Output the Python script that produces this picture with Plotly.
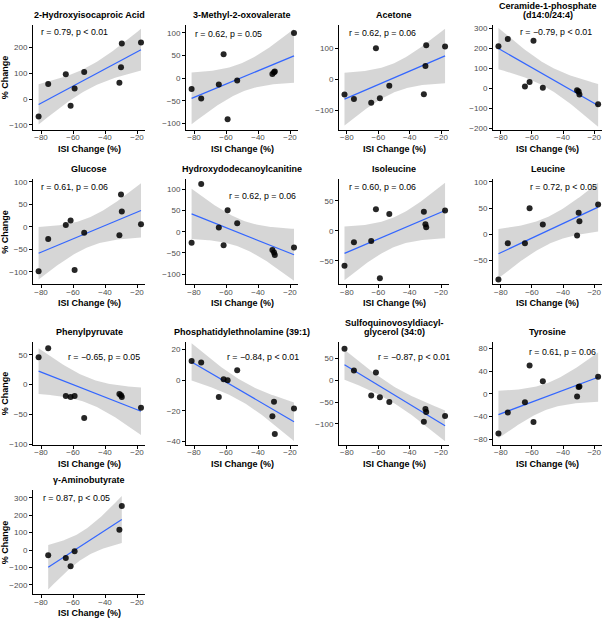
import numpy as np
import plotly.graph_objects as go

# ---------------- data ----------------
ISI = [-81.5, -75.5, -64.5, -61.5, -59.0, -53.0, -31.0, -30.0, -29.5, -17.5]

titles = [
    "2-Hydroxyisocaproic Acid", "3-Methyl-2-oxovalerate", "Acetone",
    "Ceramide-1-phosphate<br>(d14:0/24:4)",
    "Glucose", "Hydroxydodecanoylcanitine", "Isoleucine", "Leucine",
    "Phenylpyruvate", "Phosphatidylethnolamine (39:1)",
    "Sulfoquinovosyldiacyl-<br>glycerol (34:0)", "Tyrosine",
    "γ-Aminobutyrate",
]

hydroxyisocaproic = [-68, 58, 96, -26, 41, 105, 63, 123, 215, 219]
methyl_oxovalerate = [-24, -45, -14, 53, -91, -5, 9, 13, 15, 100]
acetone = [-49, -64, -76, 100, -61, -21, -48, 43, 110, 106]
ceramide = [210, 246, 8, 31, 237, 2, -10, -17, -32, -81]
glucose = [-99, -27, 4, 14, -96, -13, -19, 72, 34, 6]
hydroxydodecanoyl = [-26, 113, 10, -32, 51, 20, -43, -49, -55, -37]
isoleucine = [-58, -19, -17, 36, -79, 28, 32, 11, 6, 34]
leucine = [-86, -17, -17, 50, None, 19, -2, 41, 25, 57]
phenylpyruvate = [46, 61, -19, -21, -19, -56, -16, -18, -21, -39]
phosphatidyl = [12.5, 11.5, -11, 0.5, 0, 6.5, -23.5, -14, -35, -18.5]
sulfoquinovosyl = [73, 23, -35, 18, -39, -49.5, -95, -66, -73, -82]
tyrosine = [-70, -33, -15, 50, -50, 22, -5, 12, 13, 30]
aminobutyrate = [None, -30, -45, -92, -7, None, 116, None, 253, None]

stats_text = [
    "r = 0.79, p < 0.01", "r = 0.62, p = 0.05", "r = 0.62, p = 0.06",
    "r = −0.79, p < 0.01", "r = 0.61, p = 0.06", "r = 0.62, p = 0.06",
    "r = 0.60, p = 0.06", "r = 0.72, p < 0.05", "r = −0.65, p = 0.05",
    "r = −0.84, p < 0.01", "r = −0.87, p < 0.01", "r = 0.61, p = 0.06",
    "r = 0.87, p < 0.05",
]

x_ticks = [-80, -60, -40, -20]

# ---------------- layout config ----------------
series = [hydroxyisocaproic, methyl_oxovalerate, acetone, ceramide, glucose,
          hydroxydodecanoyl, isoleucine, leucine, phenylpyruvate, phosphatidyl,
          sulfoquinovosyl, tyrosine, aminobutyrate]

y_ranges = [(-119, 288), (-114, 118), (-163, 176), (-208, 317), (-128, 106),
            (-124, 124), (-89, 86), (-95, 105), (-101, 72), (-42, 25),
            (-148, 89), (-90, 92), (-253, 343)]
y_dticks = [100, 50, 100, 100, 50, 50, 50, 50, 50, 20, 50, 40, 100]

# (side, x offset px, y offset px from top of plot)
ann_pos = [("l", 6, 7), ("l", 7, 9), ("l", 8, 8), ("r", -8, 7),
           ("l", 6, 8), ("r", 0, 17), ("l", 8, 8), ("r", -3, 8),
           ("r", -3, 15), ("r", 3, 15), ("r", 3, 15), ("r", -4, 10),
           ("l", 8, 8)]

W, H = 606, 623
cols_px = [(33, 145), (186, 298), (339, 449), (493, 602)]
rows_px = [(23, 129), (179, 285), (343, 447), (493, 598)]

T_Q = {4: 2.776445, 5: 2.570582, 6: 2.446912, 7: 2.364624, 8: 2.306004}

FONT = "Liberation Sans, Arial, sans-serif"

fig = go.Figure()
annotations = []
layout_axes = {}

for i, ys in enumerate(series):
    r, c = divmod(i, 4)
    ax = "" if i == 0 else str(i + 1)
    xa, ya = "x" + ax, "y" + ax
    xs = np.array([x for x, y in zip(ISI, ys) if y is not None], float)
    yv = np.array([y for y in ys if y is not None], float)
    n = len(xs)
    b1, b0 = np.polyfit(xs, yv, 1)
    resid = yv - (b0 + b1 * xs)
    s = np.sqrt(np.sum(resid ** 2) / (n - 2))
    xbar = xs.mean()
    sxx = np.sum((xs - xbar) ** 2)
    grid = np.linspace(xs.min(), xs.max(), 80)
    fit = b0 + b1 * grid
    se = s * np.sqrt(1 / n + (grid - xbar) ** 2 / sxx)
    t = T_Q[n - 2]
    up, lo = fit + t * se, fit - t * se

    fig.add_trace(go.Scatter(
        x=np.concatenate([grid, grid[::-1]]), y=np.concatenate([up, lo[::-1]]),
        fill="toself", fillcolor="rgba(153,153,153,0.4)", line=dict(width=0),
        mode="lines", hoverinfo="skip", showlegend=False, xaxis=xa, yaxis=ya))
    fig.add_trace(go.Scatter(
        x=grid, y=fit, mode="lines", line=dict(color="#3366FF", width=1.2),
        showlegend=False, xaxis=xa, yaxis=ya))
    fig.add_trace(go.Scatter(
        x=xs, y=yv, mode="markers",
        marker=dict(color="rgba(0,0,0,0.85)", size=6, line=dict(width=0)),
        showlegend=False, xaxis=xa, yaxis=ya))

    x0, x1 = cols_px[c]
    y0, y1 = rows_px[r]
    common = dict(showline=True, linecolor="black", linewidth=1, ticks="outside",
                  ticklen=3, tickcolor="black", showgrid=False, zeroline=False,
                  tickfont=dict(size=8, color="#4d4d4d", family=FONT))
    layout_axes["xaxis" + ax] = dict(
        domain=[x0 / W, x1 / W], anchor=ya, range=[-85, -15],
        tickvals=x_ticks, ticklabelstandoff=-3, **common)
    layout_axes["yaxis" + ax] = dict(
        domain=[1 - y1 / H, 1 - y0 / H], anchor=xa, range=list(y_ranges[i]),
        dtick=y_dticks[i], tick0=0, **common)

    # panel title (each line placed separately, bottom line aligned)
    lines = titles[i].split("<br>")
    for k, line in enumerate(reversed(lines)):
        annotations.append(dict(
            text="<b>" + line + "</b>", xref="paper", yref="paper",
            x=(x0 + x1) / 2 / W, y=1 - (y0 - 10 - 8.5 * k) / H,
            xanchor="center", yanchor="middle",
            showarrow=False, font=dict(size=9, color="black", family=FONT)))
    # x title
    annotations.append(dict(
        text="<b>ISI Change (%)</b>", xref="paper", yref="paper",
        x=(x0 + x1) / 2 / W, y=1 - (y1 + 19) / H, xanchor="center", yanchor="middle",
        showarrow=False, font=dict(size=9, color="black", family=FONT)))
    # y title on first column
    if c == 0:
        annotations.append(dict(
            text="<b>% Change</b>", xref="paper", yref="paper",
            x=5 / W, y=1 - (y0 + y1) / 2 / H, xanchor="center", yanchor="middle",
            textangle=-90, showarrow=False, font=dict(size=9, color="black", family=FONT)))
    # stats annotation
    side, dx, dy = ann_pos[i]
    if side == "l":
        ax_x, anchor = (x0 + dx) / W, "left"
    else:
        ax_x, anchor = (x1 + dx) / W, "right"
    annotations.append(dict(
        text=stats_text[i], xref="paper", yref="paper", x=ax_x, y=1 - (y0 + dy) / H,
        xanchor=anchor, yanchor="middle", showarrow=False,
        font=dict(size=8.8, color="black", family=FONT)))

fig.update_layout(
    width=W, height=H, margin=dict(l=0, r=0, t=0, b=0),
    paper_bgcolor="white", plot_bgcolor="white",
    annotations=annotations, font=dict(family=FONT), **layout_axes)

fig.write_html("out.html", config={"displayModeBar": False},
               post_script="document.body.style.margin='0px';document.body.style.padding='0px';")
